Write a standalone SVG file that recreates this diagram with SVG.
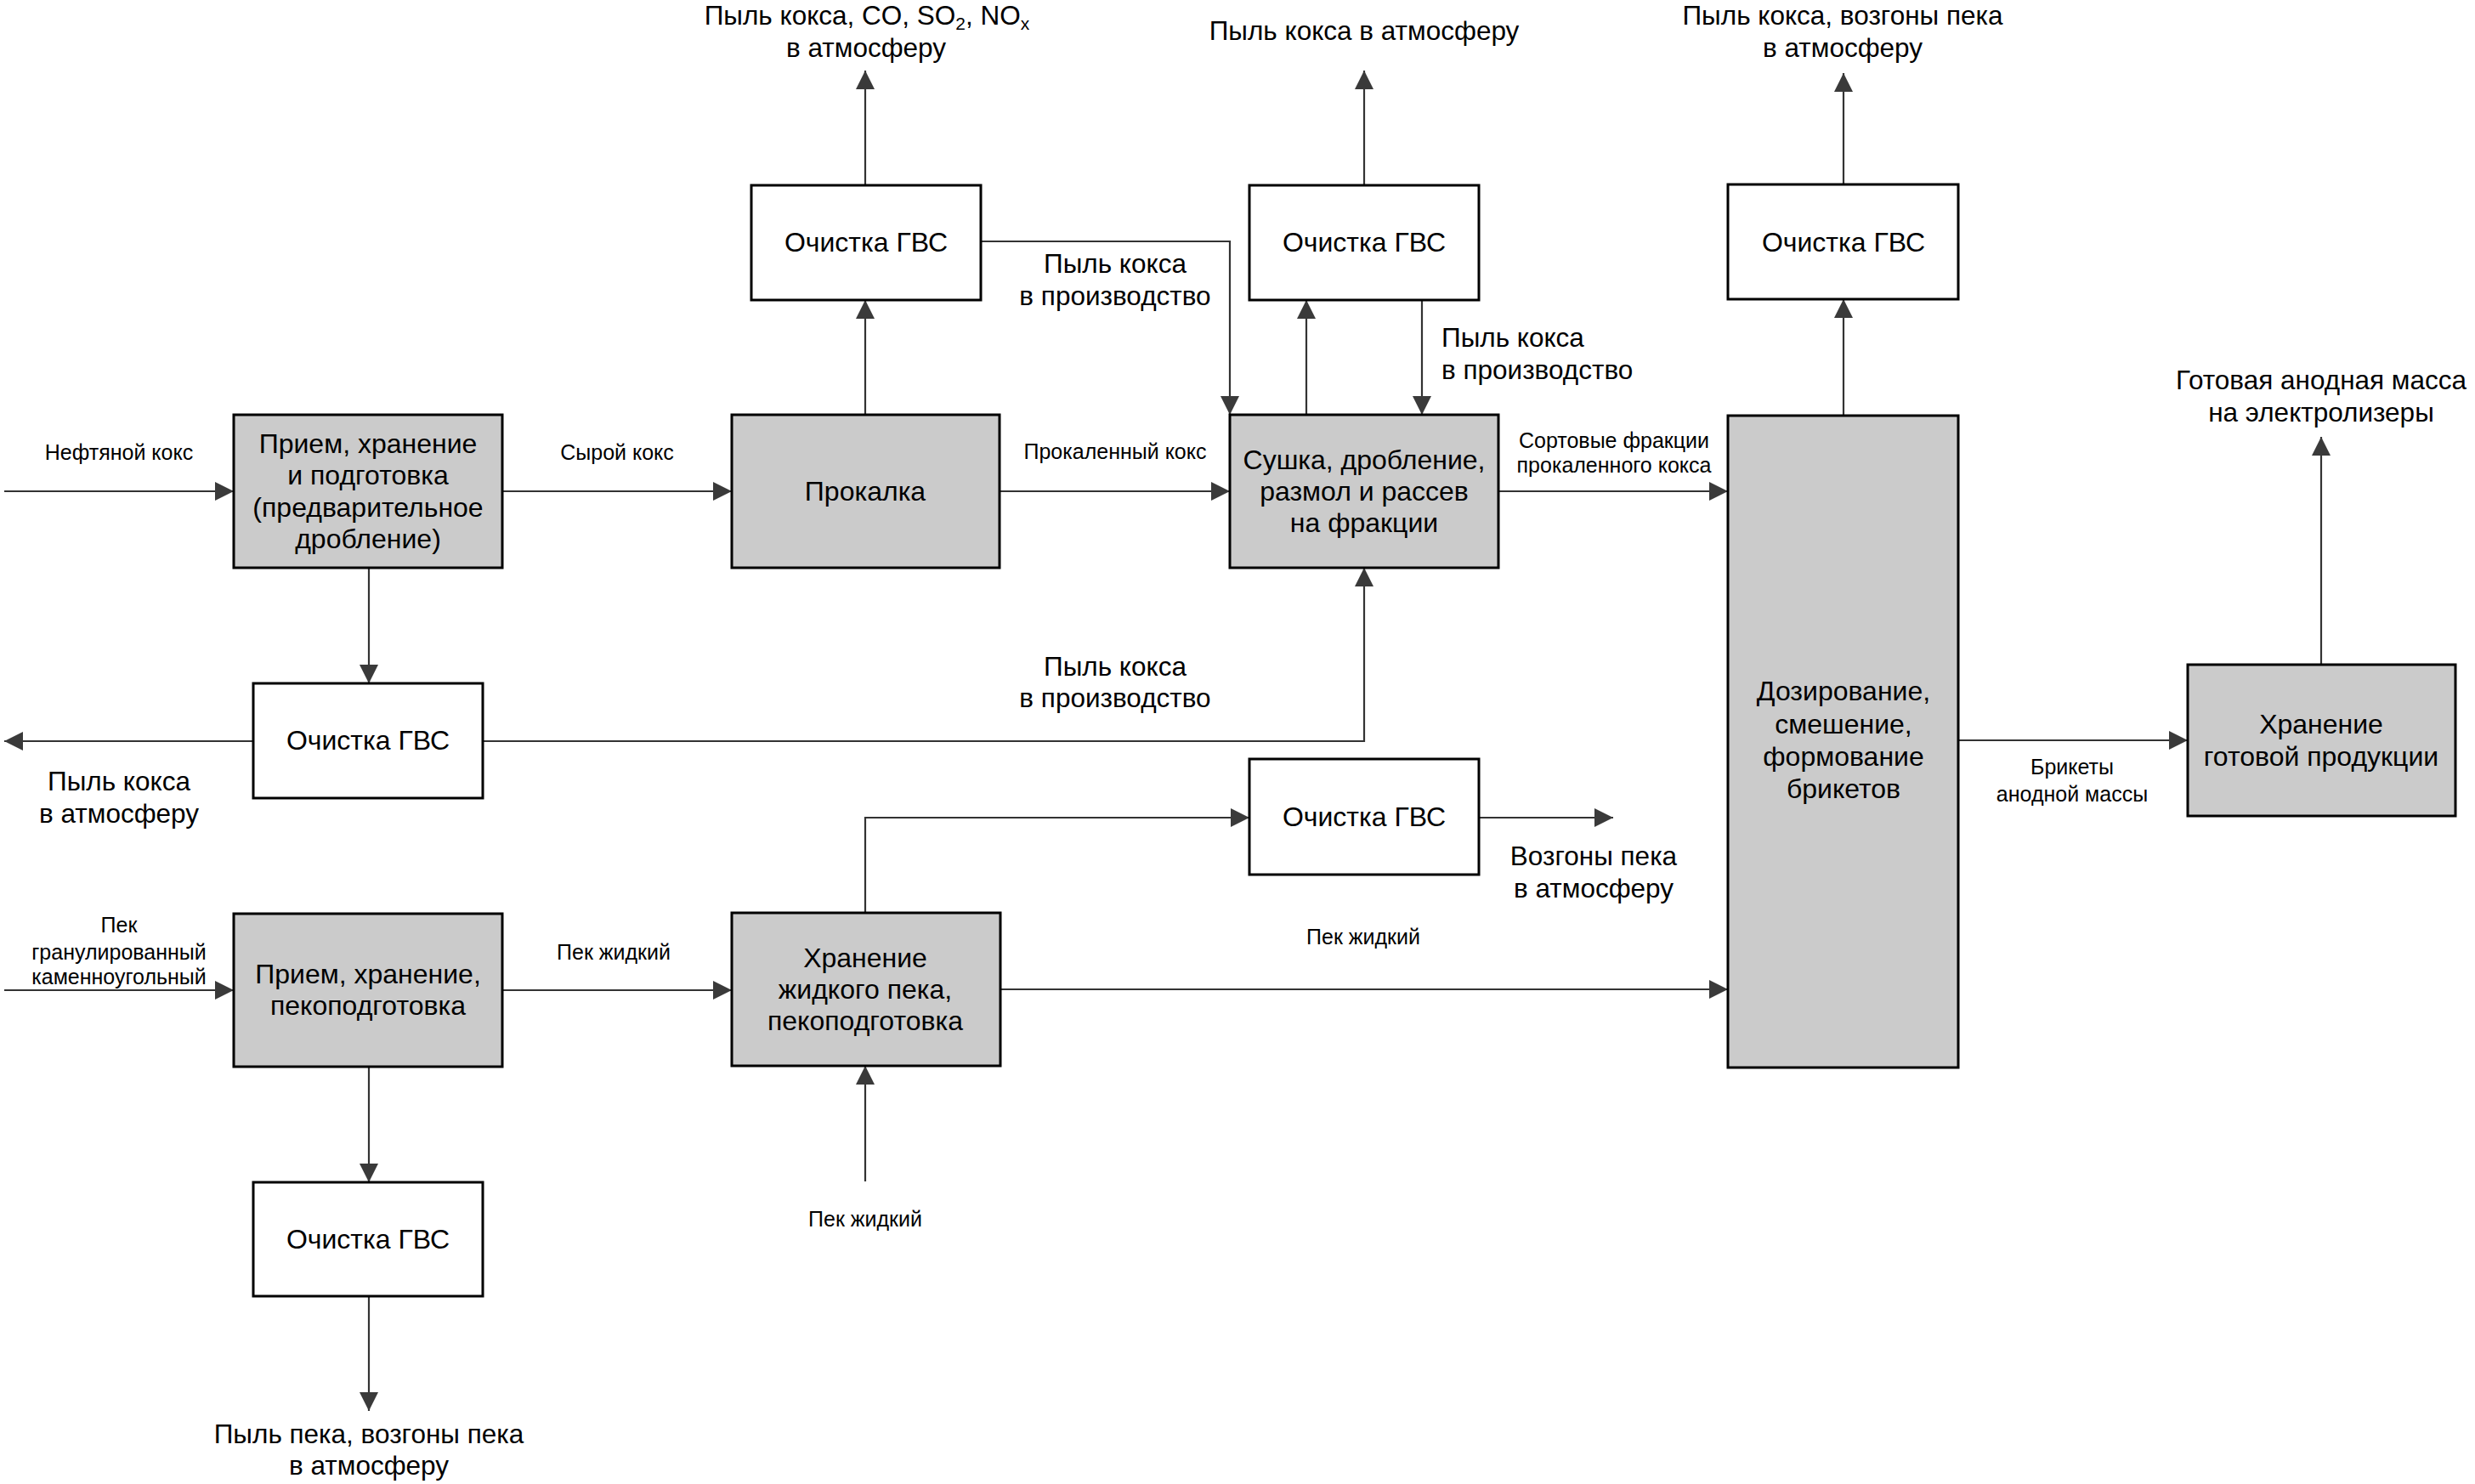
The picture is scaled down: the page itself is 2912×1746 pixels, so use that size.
<svg xmlns="http://www.w3.org/2000/svg" width="2912" height="1746" viewBox="0 0 2912 1746">
<style>
.box{fill:#cbcbcb;stroke:#000;stroke-width:3}
.wbox{fill:#fff;stroke:#000;stroke-width:3}
.t{font-family:"Liberation Sans",Arial,sans-serif;font-size:32px;fill:#000;text-anchor:middle}
.b{font-family:"Liberation Sans",Arial,sans-serif;font-size:31.5px;fill:#000;text-anchor:middle}
.bl{font-family:"Liberation Sans",Arial,sans-serif;font-size:31.5px;fill:#000;text-anchor:start}
.s{font-family:"Liberation Sans",Arial,sans-serif;font-size:25px;fill:#000;text-anchor:middle}
.c{fill:none;stroke:#333;stroke-width:2.2}
</style>
<defs>
<marker id="ah" markerUnits="userSpaceOnUse" markerWidth="22" markerHeight="22" refX="20" refY="10" orient="auto" viewBox="0 0 20 20">
<path d="M0,0 L20,10 L0,20 z" fill="#3a3a3a"/>
</marker>
</defs>
<rect width="2912" height="1746" fill="#fff"/>
<g id="connectors">
<path class="c" marker-end="url(#ah)" d="M5,578 H275"/>
<path class="c" marker-end="url(#ah)" d="M591,578 H861"/>
<path class="c" marker-end="url(#ah)" d="M1176,578 H1447"/>
<path class="c" marker-end="url(#ah)" d="M1763,578 H2033"/>
<path class="c" marker-end="url(#ah)" d="M1018,488 V353"/>
<path class="c" marker-end="url(#ah)" d="M1018,218 V83"/>
<path class="c" marker-end="url(#ah)" d="M1154,284 H1447 V488"/>
<path class="c" marker-end="url(#ah)" d="M1537,488 V353"/>
<path class="c" marker-end="url(#ah)" d="M1673,353 V488"/>
<path class="c" marker-end="url(#ah)" d="M1605,218 V83"/>
<path class="c" marker-end="url(#ah)" d="M2169,489 V352"/>
<path class="c" marker-end="url(#ah)" d="M2169,217 V86"/>
<path class="c" marker-end="url(#ah)" d="M2304,871 H2574"/>
<path class="c" marker-end="url(#ah)" d="M2731,782 V514"/>
<path class="c" marker-end="url(#ah)" d="M434,668 V804"/>
<path class="c" marker-end="url(#ah)" d="M298,872 H5"/>
<path class="c" marker-end="url(#ah)" d="M568,872 H1605 V668"/>
<path class="c" marker-end="url(#ah)" d="M5,1165 H275"/>
<path class="c" marker-end="url(#ah)" d="M591,1165 H861"/>
<path class="c" marker-end="url(#ah)" d="M1177,1164 H2033"/>
<path class="c" marker-end="url(#ah)" d="M1018,1074 V962 H1470"/>
<path class="c" marker-end="url(#ah)" d="M1740,962 H1898"/>
<path class="c" marker-end="url(#ah)" d="M1018,1390 V1254"/>
<path class="c" marker-end="url(#ah)" d="M434,1255 V1391"/>
<path class="c" marker-end="url(#ah)" d="M434,1525 V1660"/>
</g>
<g id="n-priem-koks">
<rect class="box" x="275" y="488" width="316" height="180"/>
<text class="t" x="433" y="533">Прием, хранение</text>
<text class="t" x="433" y="570">и подготовка</text>
<text class="t" x="433" y="608">(предварительное</text>
<text class="t" x="433" y="645">дробление)</text>
</g>
<g id="n-prokalka">
<rect class="box" x="861" y="488" width="315" height="180"/>
<text class="t" x="1018" y="589">Прокалка</text>
</g>
<g id="n-sushka">
<rect class="box" x="1447" y="488" width="316" height="180"/>
<text class="t" x="1605" y="552">Сушка, дробление,</text>
<text class="t" x="1605" y="589">размол и рассев</text>
<text class="t" x="1605" y="626">на фракции</text>
</g>
<g id="n-dozirovanie">
<rect class="box" x="2033" y="489" width="271" height="767"/>
<text class="t" x="2169" y="824">Дозирование,</text>
<text class="t" x="2169" y="863">смешение,</text>
<text class="t" x="2169" y="901">формование</text>
<text class="t" x="2169" y="939">брикетов</text>
</g>
<g id="n-hranenie-prod">
<rect class="box" x="2574" y="782" width="315" height="178"/>
<text class="t" x="2731" y="863">Хранение</text>
<text class="t" x="2731" y="901">готовой продукции</text>
</g>
<g id="n-priem-pek">
<rect class="box" x="275" y="1075" width="316" height="180"/>
<text class="t" x="433" y="1157">Прием, хранение,</text>
<text class="t" x="433" y="1194">пекоподготовка</text>
</g>
<g id="n-hranenie-pek">
<rect class="box" x="861" y="1074" width="316" height="180"/>
<text class="t" x="1018" y="1138">Хранение</text>
<text class="t" x="1018" y="1175">жидкого пека,</text>
<text class="t" x="1018" y="1212">пекоподготовка</text>
</g>
<g id="n-gvs1">
<rect class="wbox" x="884" y="218" width="270" height="135"/>
<text class="t" x="1019" y="296">Очистка ГВС</text>
</g>
<g id="n-gvs2">
<rect class="wbox" x="1470" y="218" width="270" height="135"/>
<text class="t" x="1605" y="296">Очистка ГВС</text>
</g>
<g id="n-gvs3">
<rect class="wbox" x="2033" y="217" width="271" height="135"/>
<text class="t" x="2169" y="296">Очистка ГВС</text>
</g>
<g id="n-gvs4">
<rect class="wbox" x="298" y="804" width="270" height="135"/>
<text class="t" x="433" y="882">Очистка ГВС</text>
</g>
<g id="n-gvs5">
<rect class="wbox" x="1470" y="893" width="270" height="136"/>
<text class="t" x="1605" y="972">Очистка ГВС</text>
</g>
<g id="n-gvs6">
<rect class="wbox" x="298" y="1391" width="270" height="134"/>
<text class="t" x="433" y="1469">Очистка ГВС</text>
</g>
<g id="labels">
<text class="b" x="1020" y="29">Пыль кокса, CO, SO<tspan font-size="21" dy="6">2</tspan><tspan dy="-6">, NO</tspan><tspan font-size="21" dy="6">x</tspan></text>
<text class="b" x="1019" y="67">в атмосферу</text>
<text class="b" x="1605" y="47">Пыль кокса в атмосферу</text>
<text class="b" x="2168" y="29">Пыль кокса, возгоны пека</text>
<text class="b" x="2168" y="67">в атмосферу</text>
<text class="b" x="1312" y="321">Пыль кокса</text>
<text class="b" x="1312" y="359">в производство</text>
<text class="bl" x="1696" y="408">Пыль кокса</text>
<text class="bl" x="1696" y="446">в производство</text>
<text class="b" x="2731" y="458">Готовая анодная масса</text>
<text class="b" x="2731" y="496">на электролизеры</text>
<text class="b" x="1312" y="795">Пыль кокса</text>
<text class="b" x="1312" y="832">в производство</text>
<text class="b" x="140" y="930">Пыль кокса</text>
<text class="b" x="140" y="968">в атмосферу</text>
<text class="b" x="1875" y="1018">Возгоны пека</text>
<text class="b" x="1875" y="1056">в атмосферу</text>
<text class="b" x="434" y="1698">Пыль пека, возгоны пека</text>
<text class="b" x="434" y="1735">в атмосферу</text>
<text class="s" x="140" y="541">Нефтяной кокс</text>
<text class="s" x="726" y="541">Сырой кокс</text>
<text class="s" x="1312" y="540">Прокаленный кокс</text>
<text class="s" x="1899" y="527">Сортовые фракции</text>
<text class="s" x="1899" y="556">прокаленного кокса</text>
<text class="s" x="2438" y="911">Брикеты</text>
<text class="s" x="2438" y="943">анодной массы</text>
<text class="s" x="140" y="1097">Пек</text>
<text class="s" x="140" y="1129">гранулированный</text>
<text class="s" x="140" y="1158">каменноугольный</text>
<text class="s" x="722" y="1129">Пек жидкий</text>
<text class="s" x="1604" y="1111">Пек жидкий</text>
<text class="s" x="1018" y="1443">Пек жидкий</text>
</g>
</svg>
